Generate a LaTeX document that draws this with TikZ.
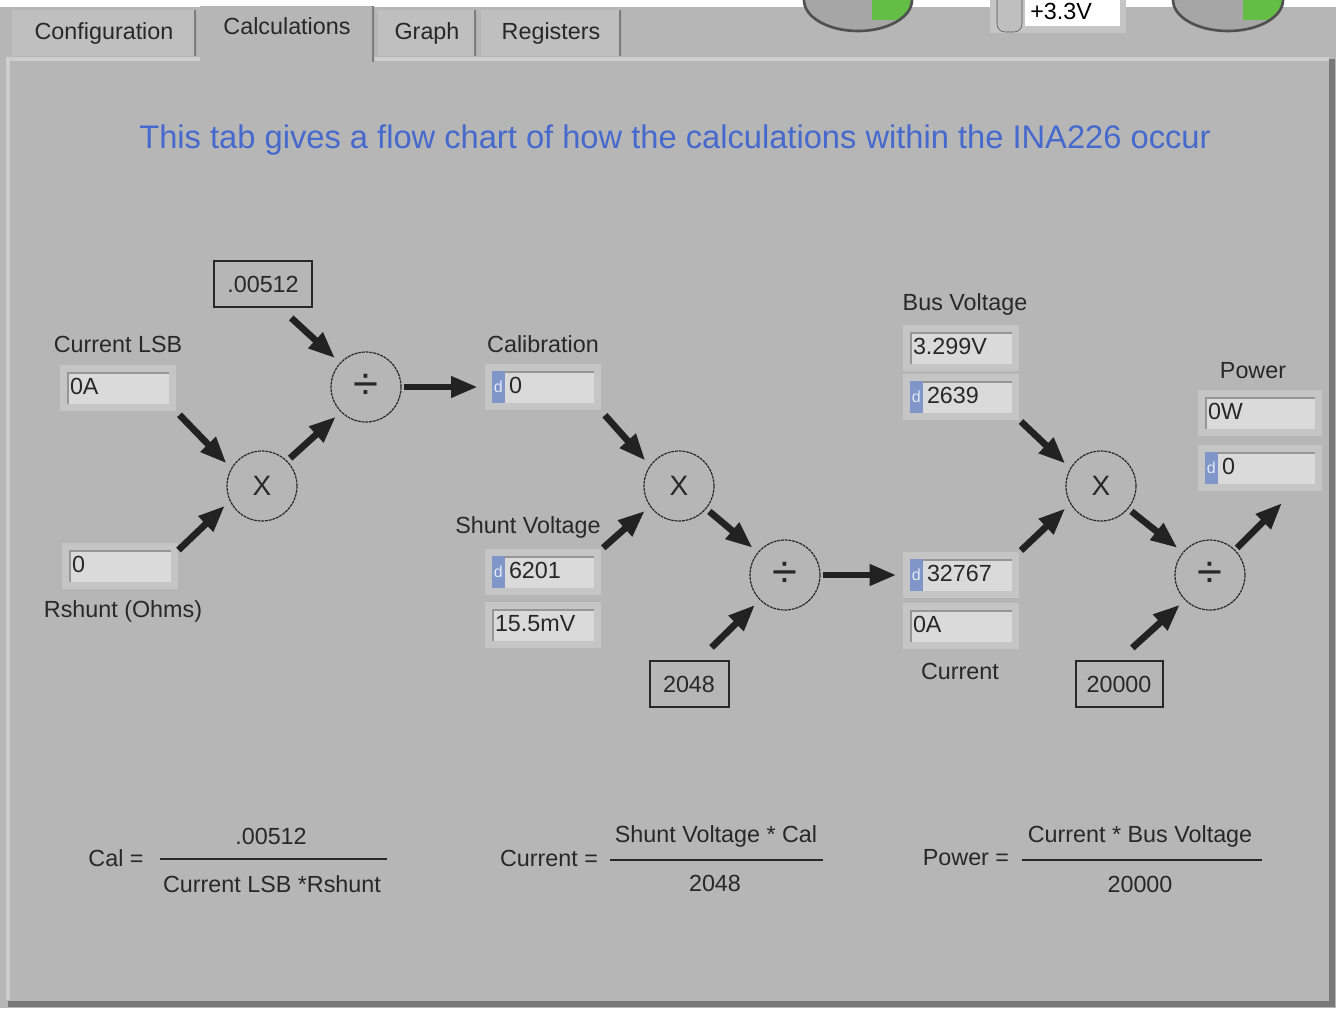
\documentclass[tikz,border=0pt]{standalone}
\usepackage{fontspec}
\setmainfont{Liberation Sans}
\usetikzlibrary{arrows.meta}
\definecolor{panelgray}{RGB}{181,182,181}
\definecolor{panelhi}{RGB}{205,206,205}
\definecolor{panelsh}{RGB}{120,120,120}
\definecolor{tabgray}{RGB}{190,191,190}
\definecolor{tabedge}{RGB}{125,125,125}
\definecolor{fieldgray}{RGB}{218,218,218}
\definecolor{rimgray}{RGB}{196,197,196}
\definecolor{shadowgray}{RGB}{150,150,150}
\definecolor{radixblue}{RGB}{128,150,200}
\definecolor{radixtext}{RGB}{225,232,248}
\definecolor{inkgray}{RGB}{40,40,40}
\definecolor{arrowink}{RGB}{34,34,34}
\definecolor{titleblue}{RGB}{70,105,205}
\definecolor{btngray}{RGB}{165,166,165}
\definecolor{btnrim}{RGB}{80,80,80}
\definecolor{btngreen}{RGB}{100,190,70}
\tikzset{
  lbl/.style={font=\fontsize{17.5}{20}\selectfont, text=inkgray, inner sep=0pt},
  fld/.style={lbl, fill=fieldgray, preaction={draw=rimgray, line width=10.5pt},
    minimum height=24pt, text width=72pt, inner xsep=2.25pt, align=left,
    text height=12.5pt, text depth=3pt,
    path picture={\draw[shadowgray, line width=3pt] (path picture bounding box.south west)
      -- (path picture bounding box.north west) -- (path picture bounding box.north east);}},
  fldd/.style={fld, execute at begin node={\hspace*{10.5pt}},
    path picture={\draw[shadowgray, line width=3pt] (path picture bounding box.south west)
      -- (path picture bounding box.north west) -- (path picture bounding box.north east);
      \fill[radixblue] (path picture bounding box.north west) rectangle ([xshift=9.75pt]path picture bounding box.south west);}},
  radix/.style={text=radixtext, font=\fontsize{12}{12}\selectfont, inner sep=0pt, anchor=center},
  cst/.style={lbl, draw=inkgray, line width=1.5pt, minimum height=34.5pt},
  op/.style={circle, draw=inkgray, dash pattern=on 2.2pt off 0.6pt, line width=0.9pt,
    minimum size=52.5pt, inner sep=0pt, text=inkgray},
  mulop/.style={op, font=\fontsize{21}{21}\selectfont},
  divop/.style={op, font=\fontsize{34}{34}\selectfont},
  flow/.style={draw=arrowink, line width=5pt, -{Triangle[length=20pt,width=15pt]}, shorten >=5pt},
  bar/.style={draw=inkgray, line width=1.5pt},
  tabbox/.style={lbl, fill=tabgray, minimum height=34.5pt,
    path picture={\draw[tabedge, line width=3pt] (path picture bounding box.north east) -- (path picture bounding box.south east);}},
}
\begin{document}
\begin{tikzpicture}[x=0.75pt,y=0.75pt,yscale=-1]
\useasboundingbox (0,0) rectangle (1336,1008);
\fill[panelgray] (0,0) rectangle (1336,1008);
\fill[white] (0,0) rectangle (1336,7);
\begin{scope}
\clip (858,0) ellipse (54 and 31);
\fill[btngray] (858,0) ellipse (54 and 31);
\fill[btngreen] (872,-5) rectangle (912,20);
\end{scope}
\draw[btnrim, line width=2pt] (804,0) arc[start angle=180, end angle=0, x radius=54, y radius=31];
\begin{scope}
\clip (1228,0) ellipse (55 and 31);
\fill[btngray] (1228,0) ellipse (55 and 31);
\fill[btngreen] (1243,-5) rectangle (1285,20);
\end{scope}
\draw[btnrim, line width=2pt] (1173,0) arc[start angle=180, end angle=0, x radius=55, y radius=31];
\fill[rimgray] (990,0) rectangle (1126,33);
\fill[white] (1025,0) rectangle (1120,26);
\draw[btnrim, fill=tabgray, rounded corners=6pt] (997,-8) rectangle (1022,32);
\node[lbl, anchor=base west, text=black] (supply) at (1030,19) {+3.3V};
\draw[panelhi, line width=3pt] (8,1000) -- (8,59) -- (1329,59);
\draw[panelsh, line width=4pt] (8,1004) -- (1332,1004) -- (1332,59);
\node[tabbox, minimum width=138pt] (tabconf) at (104,33) {Configuration};
\node[tabbox, minimum width=73.5pt] (tabgraph) at (427,33) {Graph};
\node[tabbox, minimum width=105pt] (tabreg) at (551,33) {Registers};
\node[tabbox, fill=panelgray, minimum width=130.5pt, minimum height=42pt, text height=12.5pt, text depth=12.5pt] (tabcalc) at (287,34) {Calculations};
\node[lbl, font=\fontsize{24.5}{28}\selectfont, text=titleblue] (title) at (675,140) {This tab gives a flow chart of how the calculations within the INA226 occur};
\node[lbl] (lsblbl) at (118,344) {Current LSB};
\node[fld] (lsb) at (118,388) {0A};
\node[fld] (rsh) at (120,566) {0};
\node[lbl] (rshlbl) at (123,611) {Rshunt (Ohms)};
\node[cst, minimum width=73.5pt] (kcal) at (263,284) {.00512};
\node[mulop] (mul1) at (262,486) {X};
\node[divop] (div1) at (366,387) {÷};
\node[lbl] (callbl) at (543,344) {Calibration};
\node[fldd] (cal) at (543,387) {0};
\node[lbl] (shvlbl) at (528,527) {Shunt Voltage};
\node[fldd] (shv) at (543,572) {6201};
\node[fld] (shvmv) at (543,625) {15.5mV};
\node[mulop] (mul2) at (679,486) {X};
\node[divop] (div2) at (785,575) {÷};
\node[cst, minimum width=59.25pt] (k2048) at (689,684) {2048};
\node[lbl] (buslbl) at (965,304) {Bus Voltage};
\node[fld] (busv) at (961,348) {3.299V};
\node[fldd] (busd) at (961,397) {2639};
\node[fldd] (curd) at (961,575) {32767};
\node[fld] (cura) at (961,626) {0A};
\node[lbl] (curlbl) at (960,671) {Current};
\node[mulop] (mul3) at (1101,486) {X};
\node[divop] (div3) at (1210,575) {÷};
\node[cst, minimum width=65.25pt] (k20000) at (1119,684) {20000};
\node[lbl] (pwlbl) at (1253,371) {Power};
\node[fld, text width=78pt] (pw) at (1260,413) {0W};
\node[fldd, text width=78pt] (pwd) at (1260,468) {0};
\foreach \f in {cal,shv,busd,curd,pwd}
  \node[radix] (\f d) at ([xshift=4.9pt]\f.west) {d};
\coordinate (pwout) at (1282,503);
\draw[flow, shorten <=11pt] (lsb.south east) -- (mul1.150);
\draw[flow, shorten <=7.5pt] (rsh.10) -- (mul1.205);
\draw[flow, shorten <=3pt] (mul1.45) -- (div1.225);
\draw[flow, shorten <=11pt] (kcal.-54) -- (div1.137);
\draw[flow, shorten <=1.5pt, shorten >=10.5pt] (div1.east) -- (cal.west);
\draw[flow, shorten <=12pt] (cal.south east) -- (mul2.145);
\draw[flow, shorten <=9pt] (shv.north east) -- (mul2.215);
\draw[flow, shorten <=3pt] (mul2.-40) -- (div2.140);
\draw[flow, shorten <=13.5pt] (k2048.68) -- (div2.225);
\draw[flow, shorten <=2pt, shorten >=10pt] (div2.east) -- (curd.west);
\draw[flow, shorten <=9pt] (busd.south east) -- (mul3.150);
\draw[flow, shorten <=9pt] (curd.north east) -- (mul3.210);
\draw[flow, shorten <=3pt] (mul3.-40) -- (div3.140);
\draw[flow, shorten <=13.5pt] (k20000.north) -- (div3.225);
\draw[flow, shorten <=2pt, shorten >=0pt] (div3.45) -- (pwout);
\node[lbl] (caleq) at (116,858) {Cal =};
\node[lbl] (calnum) at (271,836) {.00512};
\node[lbl] (calden) at (272,884) {Current LSB *Rshunt};
\coordinate (calbarl) at (160,859);
\coordinate (calbarr) at (387,859);
\draw[bar] (calbarl) -- (calbarr);
\node[lbl] (cureq) at (549,858) {Current =};
\node[lbl] (curnum) at (716,836) {Shunt Voltage * Cal};
\node[lbl] (curden) at (715,883) {2048};
\coordinate (curbarl) at (610,860);
\coordinate (curbarr) at (823,860);
\draw[bar] (curbarl) -- (curbarr);
\node[lbl] (pweq) at (966,858) {Power =};
\node[lbl] (pwnum) at (1140,836) {Current * Bus Voltage};
\node[lbl] (pwden) at (1140,884) {20000};
\coordinate (pwbarl) at (1022,860);
\coordinate (pwbarr) at (1262,860);
\draw[bar] (pwbarl) -- (pwbarr);
\end{tikzpicture}
\end{document}
